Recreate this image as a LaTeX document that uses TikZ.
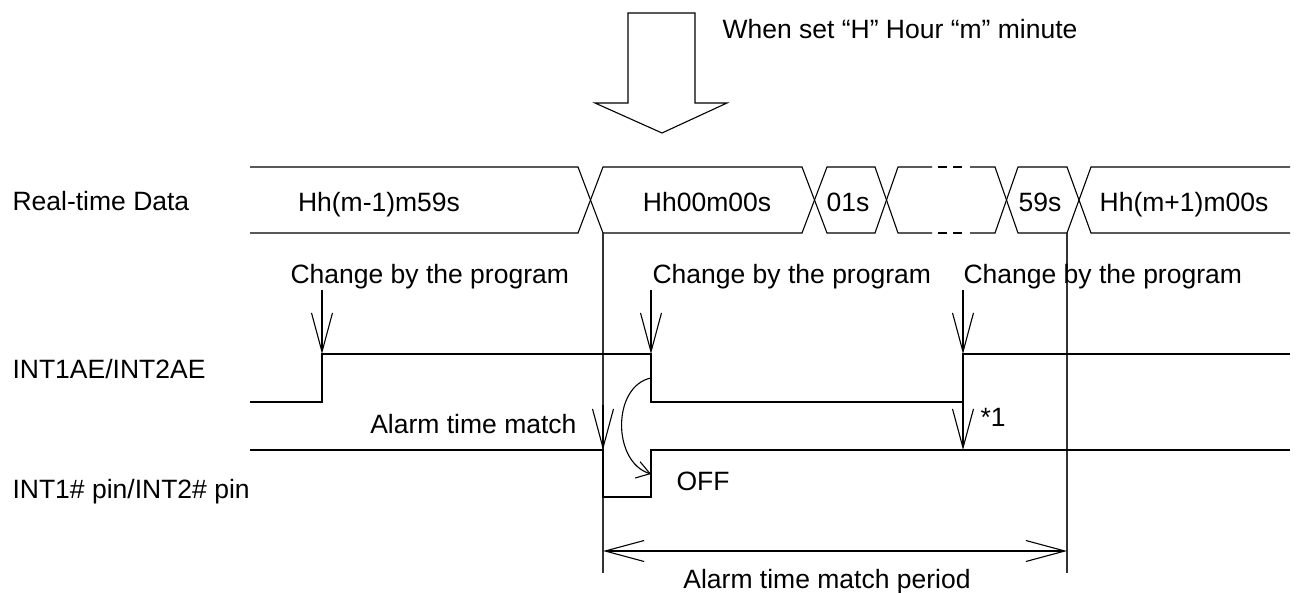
\documentclass[tikz,border=0pt]{standalone}
\usepackage{fontspec}
\setmainfont{Liberation Sans}
\usetikzlibrary{arrows.meta}
\begin{document}
\begin{tikzpicture}[x=1pt,y=-1pt,line width=1.1pt,line join=miter,
  lbl/.style={inner sep=0pt,font=\fontsize{26.5}{30}\selectfont},
  vtip/.style={-{Straight Barb[length=39pt,width=21pt]}},
  dimarrow/.style={{Straight Barb[length=39pt,width=21pt]}-{Straight Barb[length=39pt,width=21pt]}},
  smalltip/.style={-{Straight Barb[length=13pt,width=17pt]}},
  wave/.style={draw=black},
  guide/.style={draw=black!80}]
\useasboundingbox (0,0) rectangle (1296,592);

% ---- big hollow arrow at top
\draw (628,13) -- (695,13) -- (695,103) -- (727,103) -- (662,133) -- (595,103) -- (628,103) -- cycle;
\node[lbl,anchor=base west] (when) at (722,38) {When set “H” Hour “m” minute};

% ---- left labels
\node[lbl,anchor=base west] (lrt) at (12,210) {Real-time Data};
\node[lbl,anchor=base west] (lae) at (12,378) {INT1AE/INT2AE};
\node[lbl,anchor=base west] (lpin) at (12,498) {INT1\# pin/INT2\# pin};

% ---- real-time data bus
\draw[wave] (250,167) -- (578,167) -- (590.5,200) -- (578,233) -- (250,233);
\draw[wave] (590.5,200) -- (603,167) -- (802,167) -- (814.5,200) -- (802,233) -- (603,233) -- cycle;
\draw[wave] (814.5,200) -- (827,167) -- (875,167) -- (886.5,200) -- (875,233) -- (827,233) -- cycle;
\draw[wave] (886.5,200) -- (898,167) -- (932,167);
\draw[wave] (886.5,200) -- (898,233) -- (932,233);
\draw[wave] (938,167) -- (947,167) (953,167) -- (962,167);
\draw[wave] (938,233) -- (947,233) (953,233) -- (962,233);
\draw[wave] (970,167) -- (995,167) -- (1006.5,200) -- (995,233) -- (970,233);
\draw[wave] (1006.5,200) -- (1018,167) -- (1067,167) -- (1079,200) -- (1067,233) -- (1018,233) -- cycle;
\draw[wave] (1290,167) -- (1091,167) -- (1079,200) -- (1091,233) -- (1290,233);

\node[lbl,anchor=base] (d0) at (379,211) {Hh(m-1)m59s};
\node[lbl,anchor=base] (d1) at (707,211) {Hh00m00s};
\node[lbl,anchor=base] (d2) at (848,211) {01s};
\node[lbl,anchor=base] (d3) at (1040,211) {59s};
\node[lbl,anchor=base] (d4) at (1184,211) {Hh(m+1)m00s};

% ---- guide verticals
\coordinate (gL1) at (603,233); \coordinate (gL2) at (603,573);
\coordinate (gR1) at (1067,233); \coordinate (gR2) at (1067,573);
\draw[guide] (gL1) -- (gL2);
\draw[guide] (gR1) -- (gR2);

% ---- change by the program
\node[lbl,anchor=base west] (c1) at (290,283) {Change by the program};
\node[lbl,anchor=base west] (c2) at (652,283) {Change by the program};
\node[lbl,anchor=base west] (c3) at (963,283) {Change by the program};
\coordinate (a1s) at (322,290); \coordinate (a1t) at (322,354);
\coordinate (a2s) at (651,290); \coordinate (a2t) at (651,354);
\coordinate (a3s) at (963,290); \coordinate (a3t) at (963,354);
\draw[vtip] (a1s) -- (a1t);
\draw[vtip] (a2s) -- (a2t);
\draw[vtip] (a3s) -- (a3t);

% ---- INT1AE/INT2AE waveform
\draw[wave] (250,402) -- (322,402) -- (a1t) -- (a2t) -- (651,402) -- (963,402) -- (a3t) -- (1290,354);

% ---- INT pin waveform
\draw[wave] (250,450) -- (603,450) -- (603,497) -- (651,497) -- (651,450) -- (1290,450);

% ---- alarm time match arrow
\node[lbl,anchor=base east] (atm) at (577,433) {Alarm time match};
\coordinate (m1s) at (603,405); \coordinate (m1t) at (603,450);
\draw[vtip] (m1s) -- (m1t);

% ---- *1 arrow
\coordinate (s1s) at (963,402); \coordinate (s1t) at (963,450);
\draw[vtip] (s1s) -- (s1t);
\node[lbl,anchor=base west] (star) at (980,426) {*1};

% ---- curved arrow and OFF
\coordinate (cvs) at (651,378); \coordinate (cvt) at (651,474);
\draw[smalltip] (cvs) .. controls (612,386) and (612,462) .. (cvt);
\node[lbl,anchor=base west] (off) at (676,490) {OFF};

% ---- alarm time match period
\coordinate (pL) at (603,551); \coordinate (pR) at (1067,551);
\draw[dimarrow] (pL) -- (pR);
\node[lbl,anchor=base] (per) at (827,588) {Alarm time match period};
\end{tikzpicture}
\end{document}
